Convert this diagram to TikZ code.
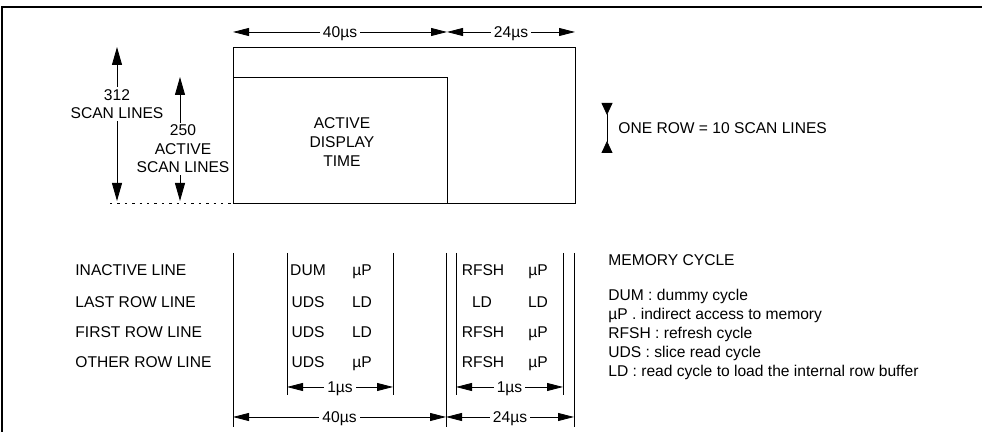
\documentclass[tikz,border=0pt]{standalone}
\usepackage{fontspec}
\setmainfont{Liberation Sans}
\usetikzlibrary{arrows.meta}

\tikzset{
  dim/.style  = {thin, {Triangle[length=8pt,width=4pt]}-{Triangle[length=8pt,width=4pt]}},
  vdim/.style = {thin, {Triangle[length=9pt,width=5pt]}-{Triangle[length=9pt,width=5pt]}},
  captxt/.style  = {text height=5.6pt, text depth=0pt, inner sep=1pt},
  cut/.style  = {captxt, fill=white, inner sep=1.5pt},
}

\begin{document}
\begin{tikzpicture}[x=0.5pt, y=-0.5pt, font=\fontsize{7.8}{9.3}\selectfont]
\useasboundingbox (0,0) rectangle (982,432);
\coordinate (T40a) at (233,32);
\coordinate (T40b) at (447,32);
\coordinate (T24b) at (575,32);
\coordinate (S312a) at (117,47);
\coordinate (S312b) at (117,201);
\coordinate (S250a) at (180,77);
\coordinate (S250b) at (180,201);
\coordinate (RowA) at (607,103);
\coordinate (RowB) at (607,153);
% frame
\draw[line width=0.8pt] (2,432) -- (2,7) -- (982,7);
% screen
\draw[dim] (T40a) -- node[cut] {40µs} (T40b);
\draw[dim] (T40b) -- node[cut] {24µs} (T24b);
\draw[thin] (233,47) rectangle (575,203);
\draw[thin] (233,77) rectangle (447,203);
\node[align=center] (adt) at (342,142) {ACTIVE\\DISPLAY\\TIME};
\draw[thin, dash pattern=on 1.2pt off 2.5pt] (110,203) -- (233,203);
\draw[vdim] (S312a) -- (S312b);
\draw[vdim] (S250a) -- (S250b);
\node[align=center, fill=white, inner sep=1pt] (n312) at (117,104) {312\\SCAN LINES};
\node[align=center, fill=white, inner sep=1pt] (n250) at (183,149) {250\\ACTIVE\\SCAN LINES};
\draw[thin, {Triangle[length=6pt,width=5.5pt,reversed]}-{Triangle[length=6pt,width=5.5pt,reversed]}] (RowA) -- (RowB);
\node[captxt, anchor=west] (onerow) at (616,128) {ONE ROW = 10 SCAN LINES};
% line types
\node[captxt, anchor=west] (l1) at (73,270) {INACTIVE LINE};
\node[captxt, anchor=west] (l2) at (73,302) {LAST ROW LINE};
\node[captxt, anchor=west] (l3) at (73,332) {FIRST ROW LINE};
\node[captxt, anchor=west] (l4) at (73,362) {OTHER ROW LINE};
% slots
\draw[thin] (233,253) -- (233,427);
\draw[thin] (287,253) -- (287,395);
\draw[thin] (393,253) -- (393,395);
\draw[thin] (446,253) -- (446,427);
\draw[thin] (456,253) -- (456,395);
\draw[thin] (563,253) -- (563,395);
\draw[thin] (574,253) -- (574,427);
\node[captxt] (c11) at (308,270) {DUM};
\node[captxt] (c12) at (362,270) {µP};
\node[captxt] (c21) at (308,302) {UDS};
\node[captxt] (c22) at (362,302) {LD};
\node[captxt] (c31) at (308,332) {UDS};
\node[captxt] (c32) at (362,332) {LD};
\node[captxt] (c41) at (308,362) {UDS};
\node[captxt] (c42) at (362,362) {µP};
\node[captxt] (d11) at (483,270) {RFSH};
\node[captxt] (d12) at (538,270) {µP};
\node[captxt] (d21) at (482,302) {LD};
\node[captxt] (d22) at (538,302) {LD};
\node[captxt] (d31) at (483,332) {RFSH};
\node[captxt] (d32) at (538,332) {µP};
\node[captxt] (d41) at (483,362) {RFSH};
\node[captxt] (d42) at (538,362) {µP};
\draw[dim] (287,387) -- node[cut] {1µs} (393,387);
\draw[dim] (456,387) -- node[cut] {1µs} (563,387);
\draw[dim] (233,417) -- node[cut] {40µs} (446,417);
\draw[dim] (446,417) -- node[cut] {24µs} (574,417);
% legend
\node[captxt, anchor=west] (mc) at (606,260) {MEMORY CYCLE};
\node[captxt, anchor=west] (k1) at (606,295) {DUM : dummy cycle};
\node[captxt, anchor=west] (k2) at (606,314) {µP . indirect access to memory};
\node[captxt, anchor=west] (k3) at (606,333) {RFSH : refresh cycle};
\node[captxt, anchor=west] (k4) at (606,352) {UDS : slice read cycle};
\node[captxt, anchor=west] (k5) at (606,371) {LD : read cycle to load the internal row buffer};
\end{tikzpicture}
\end{document}
